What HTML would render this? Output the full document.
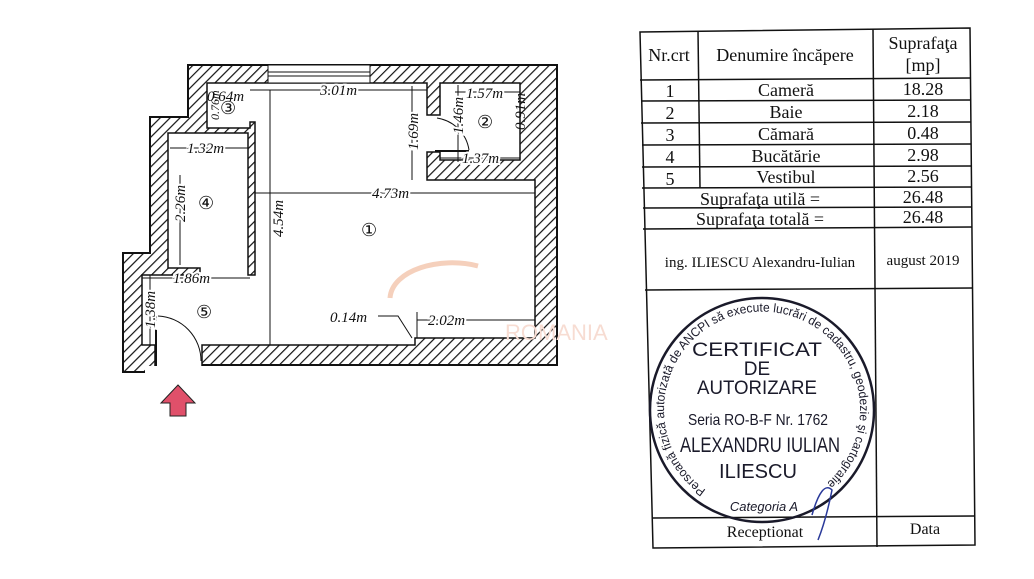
<!DOCTYPE html>
<html><head><meta charset="utf-8"><style>
html,body{margin:0;padding:0;background:#fff;}
svg{display:block;}
.dim{font-family:"Liberation Serif",serif;font-style:italic;font-size:15px;fill:#111;}
.tb{font-family:"Liberation Serif",serif;font-size:18px;fill:#111;}
.st{font-family:"Liberation Sans",sans-serif;fill:#1a1a2a;}
.wb{stroke:#fff;stroke-width:4;paint-order:stroke;}
</style></head><body>
<svg width="1034" height="579" viewBox="0 0 1034 579" xmlns="http://www.w3.org/2000/svg">
<defs>
<pattern id="h" width="7" height="7" patternUnits="userSpaceOnUse" patternTransform="rotate(45)">
<rect width="7" height="7" fill="#fff"/><line x1="0" y1="0" x2="0" y2="7" stroke="#111" stroke-width="2.4"/>
</pattern>
<path id="arc" d="M 706 490 A 98 98 0 1 1 818 490"/>
</defs>
<!-- walls -->
<polygon points="188,65 557,65 557,365 202,365 202,372 123,372 123,253 150,253 150,117 188,117" fill="url(#h)" stroke="#111" stroke-width="2"/>
<polygon points="142,275 200,275 200,268 168,268 168,133 248,133 248,275 255,275 255,122 250,122 250,128 207,128 207,83 427,83 427,115 440,115 440,83 520,83 520,160 440,160 440,152 427,152 427,180 535,180 535,338 415,338 415,345 202,345 202,395 155,395 155,345 142,345" fill="#fff" stroke="#111" stroke-width="1.5"/>
<rect x="145" y="366" width="70" height="35" fill="#fff"/>
<rect x="268" y="65" width="102" height="18" fill="#fff" stroke="#111"/>
<line x1="268" y1="72" x2="370" y2="72" stroke="#111"/><line x1="268" y1="76" x2="370" y2="76" stroke="#111"/>
<!-- doors -->
<path d="M158 316 A45 45 0 0 1 201 361" fill="none" stroke="#111"/>
<line x1="156" y1="316" x2="156" y2="366" stroke="#111" stroke-width="2"/>
<path d="M437 118 A38 38 0 0 1 469 150" fill="none" stroke="#111"/>
<line x1="435" y1="151" x2="469" y2="151" stroke="#111" stroke-width="2"/>
<!-- dims -->
<g stroke="#111" stroke-width="1">
<line x1="250" y1="90" x2="427" y2="90"/><line x1="270" y1="90" x2="270" y2="345"/>
<line x1="255" y1="193" x2="535" y2="193"/><line x1="412" y1="86" x2="412" y2="180"/>
<line x1="170" y1="148" x2="248" y2="148"/><line x1="180" y1="175" x2="180" y2="265"/>
<line x1="142" y1="278" x2="250" y2="278"/><line x1="150" y1="275" x2="150" y2="345"/>
<line x1="455" y1="92" x2="520" y2="92"/><line x1="458" y1="85" x2="458" y2="162"/>
<line x1="440" y1="158" x2="520" y2="158"/>
<line x1="417" y1="320" x2="535" y2="320"/><line x1="417" y1="312" x2="417" y2="338"/>
<polyline points="378,316 398,316 412,338" fill="none"/>
</g>
<g class="dim">
<text x="320" y="95" class="wb">3.01m</text>
<text x="207" y="101">0.64m</text>
<text x="372" y="198" class="wb">4.73m</text>
<text x="187" y="153" class="wb">1.32m</text>
<text x="173" y="283" class="wb">1.86m</text>
<text x="466" y="98" class="wb">1.57m</text>
<text x="462" y="163" class="wb">1.37m</text>
<text x="428" y="325" class="wb">2.02m</text>
<text x="330" y="322">0.14m</text>
<text transform="translate(283,237) rotate(-90)" class="wb">4.54m</text>
<text transform="translate(185,222) rotate(-90)" class="wb">2.26m</text>
<text transform="translate(418,150) rotate(-90)" class="wb">1.69m</text>
<text transform="translate(463,134) rotate(-90)" class="wb">1.46m</text>
<text transform="translate(525,130) rotate(-90)">0.91m</text>
<text transform="translate(155,328) rotate(-90)" class="wb">1.38m</text>
<text transform="translate(219,120) rotate(-90)" font-size="12">0.76m</text>
</g>
<g font-family="DejaVu Sans,sans-serif" font-size="18" fill="#111">
<text x="361" y="236">①</text><text x="477" y="128">②</text><text x="220" y="114">③</text>
<text x="198" y="209">④</text><text x="196" y="318">⑤</text>
</g>
<path d="M478 266 C440 256 392 270 390 298" fill="none" stroke="#f5d0bc" stroke-width="5"/>
<text x="505" y="340" font-family="Liberation Sans,sans-serif" font-size="22" fill="#f7dcd2">ROMANIA</text>
<!-- arrow -->
<polygon points="178,385 195,403 186,403 186,416 170,416 170,403 161,403" fill="#e0506a" stroke="#222"/>
<!-- table -->
<g stroke="#111" stroke-width="1.5" fill="none">
<polygon points="640,32 970,28 975,545 653,548"/>
<line x1="640" y1="80" x2="971" y2="78"/>
<line x1="641" y1="101" x2="971" y2="100"/><line x1="641" y1="123" x2="971" y2="122"/>
<line x1="642" y1="145" x2="971" y2="144"/><line x1="642" y1="167" x2="971" y2="166"/>
<line x1="642" y1="188" x2="972" y2="187"/><line x1="643" y1="208" x2="972" y2="207"/>
<line x1="643" y1="229" x2="972" y2="227"/><line x1="645" y1="290" x2="973" y2="288"/>
<line x1="652" y1="518" x2="975" y2="516"/>
<line x1="698" y1="31" x2="700" y2="188"/>
<line x1="873" y1="29" x2="877" y2="547"/>
</g>
<g class="tb" text-anchor="middle">
<text x="669" y="61">Nr.crt</text><text x="785" y="61">Denumire încăpere</text>
<text x="923" y="49">Suprafaţa</text><text x="923" y="71">[mp]</text>
<text x="670" y="97">1</text><text x="786" y="96">Cameră</text><text x="923" y="95">18.28</text>
<text x="670" y="119">2</text><text x="786" y="118">Baie</text><text x="923" y="117">2.18</text>
<text x="670" y="141">3</text><text x="786" y="140">Cămară</text><text x="923" y="139">0.48</text>
<text x="670" y="163">4</text><text x="786" y="162">Bucătărie</text><text x="923" y="161">2.98</text>
<text x="670" y="185">5</text><text x="786" y="183">Vestibul</text><text x="923" y="182">2.56</text>
<text x="760" y="205">Suprafaţa utilă =</text><text x="923" y="203">26.48</text>
<text x="760" y="225">Suprafaţa totală =</text><text x="923" y="223">26.48</text>
<text x="760" y="267" font-size="15">ing. ILIESCU Alexandru-Iulian</text><text x="923" y="265" font-size="15">august  2019</text>
<text x="765" y="537" font-size="16">Receptionat</text><text x="925" y="534" font-size="16">Data</text>
</g>
<!-- stamp -->
<circle cx="762" cy="410" r="112" fill="none" stroke="#1a1a2a" stroke-width="2.5"/>
<text class="st" font-size="12.5"><textPath href="#arc" textLength="485" lengthAdjust="spacingAndGlyphs">Persoană fizică autorizată de ANCPI să execute lucrări de cadastru, geodezie şi cartografie</textPath></text>
<g class="st" text-anchor="middle">
<text x="757" y="356" font-size="19" textLength="130" lengthAdjust="spacingAndGlyphs">CERTIFICAT</text>
<text x="757" y="375" font-size="19">DE</text>
<text x="757" y="394" font-size="19" textLength="120" lengthAdjust="spacingAndGlyphs">AUTORIZARE</text>
<text x="758" y="425" font-size="16" textLength="140" lengthAdjust="spacingAndGlyphs">Seria RO-B-F Nr. 1762</text>
<text x="760" y="452" font-size="21" textLength="160" lengthAdjust="spacingAndGlyphs">ALEXANDRU IULIAN</text>
<text x="758" y="478" font-size="20" textLength="78" lengthAdjust="spacingAndGlyphs">ILIESCU</text>
<text x="764" y="511" font-size="13" font-style="italic">Categoria A</text>
</g>
<path d="M812 515 Q822 480 832 490 Q826 520 818 540" fill="none" stroke="#2a3a9a" stroke-width="1.5"/>
</svg>
</body></html>
